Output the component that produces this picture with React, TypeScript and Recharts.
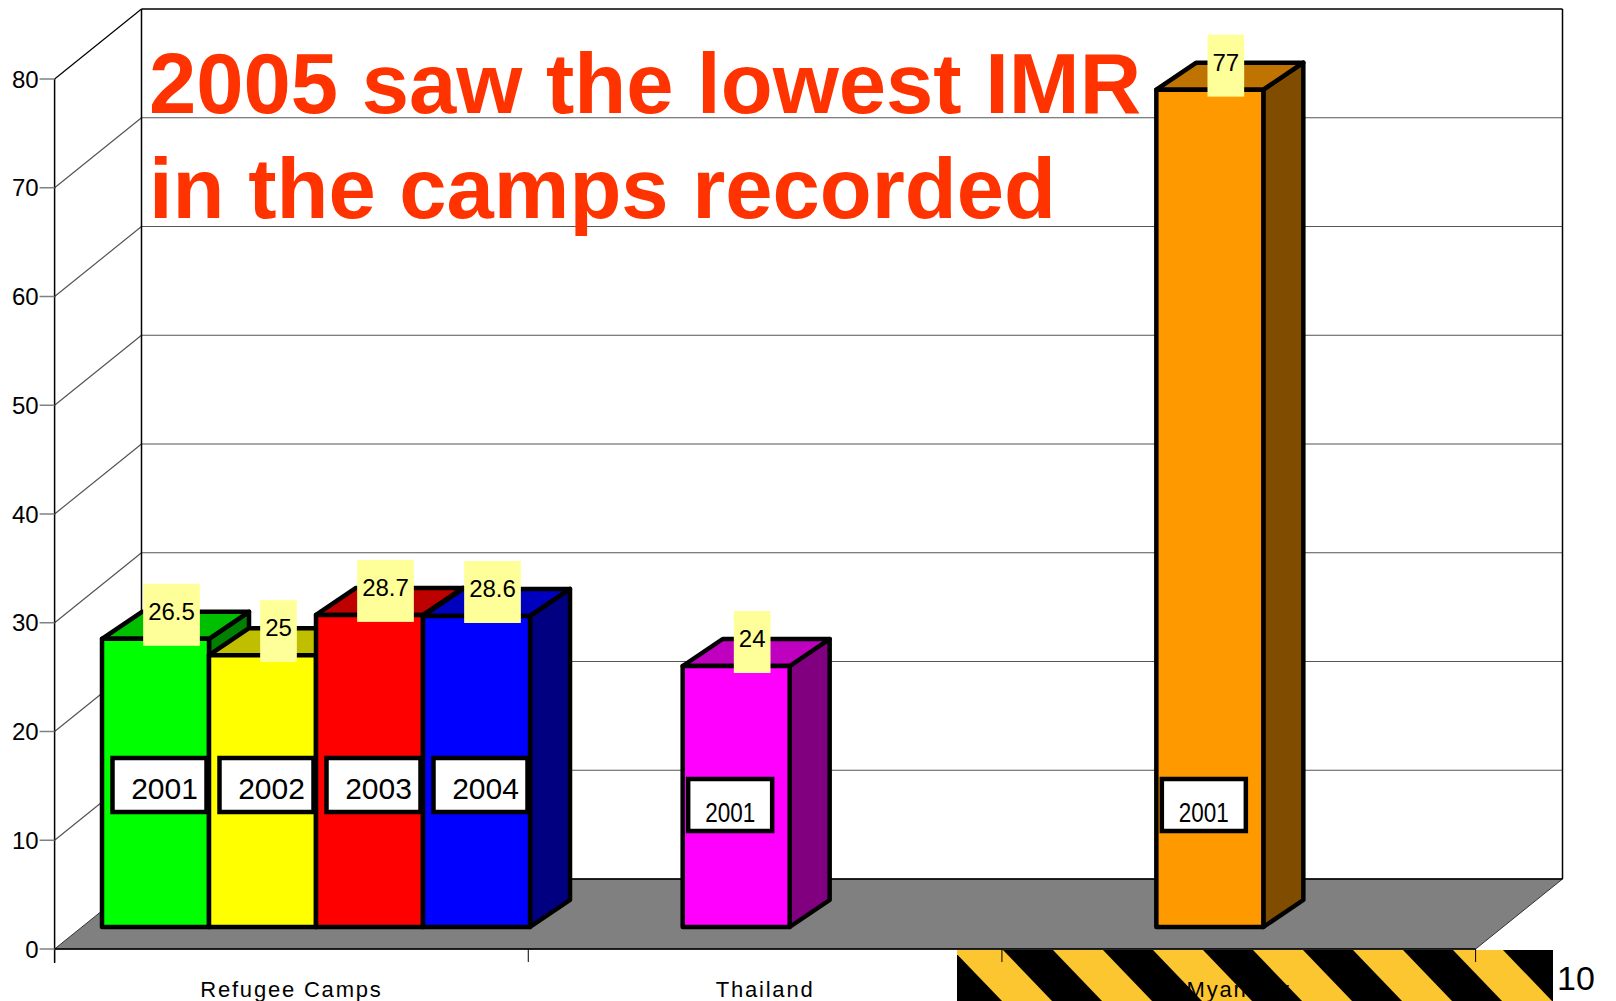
import React from "react";
import { BarChart, Bar, XAxis, YAxis, CartesianGrid, LabelList } from "recharts";

// infant mortality rate per 1000 live births
const regions = ["Refugee Camps", "Thailand", "Myanmar"];
const years = ["2001", "2002", "2003", "2004"];
const campsIMR = [26.5, 25, 28.7, 28.6];
const thailandIMR = [null, 24, null, null];
const myanmarIMR = [null, 77, null, null];
const thailandYear = "2001";
const myanmarYear = "2001";
const yTicks = [0, 10, 20, 30, 40, 50, 60, 70, 80];

const campColors = ["#00FF00", "#FFFF00", "#FF0000", "#0000FF"];
const thailandColor = "#FF00FF";
const myanmarColor = "#FF9900";

const slotKeys = ["s1", "s2", "s3", "s4"];
const rows = [campsIMR, thailandIMR, myanmarIMR];
const data = regions.map((region, r) => {
  const row: any = { region };
  slotKeys.forEach((k, i) => (row[k] = rows[r][i]));
  return row;
});

const W = 1616;
const H = 1001;
const AXIS_W = 2;
const AXIS_H = 2;
const M = { top: 57, right: 116, bottom: 74 - AXIS_H, left: 79 - AXIS_W };
const PLOT_LEFT = M.left + AXIS_W;
const PLOT_BOTTOM = H - M.bottom - AXIS_H;
// bar plane -> front plane / back wall, and depth of a single bar
const FRONT = { dx: -24.4, dy: 22 };
const BACK = { dx: 62.5, dy: -48 };
const DEPTH = { dx: 40, dy: -27 };
const FONT = "'Liberation Sans', Arial, sans-serif";

const shade = (hex: string, f: number) => {
  const n = parseInt(hex.slice(1), 16);
  const c = (v: number) => Math.round(v * f).toString(16).padStart(2, "0");
  return "#" + c((n >> 16) & 255) + c((n >> 8) & 255) + c(n & 255);
};

const colorFor = (slot: number, r: number) =>
  r === 0 ? campColors[slot] : r === 1 ? thailandColor : myanmarColor;

const numWidth = (s: string, size: number) =>
  s.split("").reduce((w, ch) => w + (ch === "." ? 0.278 : 0.556) * size, 0);

const pick = (props: any) => {
  const vb = props.viewBox || {};
  const x = props.x ?? vb.x;
  const y = props.y ?? vb.y;
  const width = props.width ?? vb.width;
  const height = props.height ?? vb.height;
  let value = props.value;
  if (Array.isArray(value)) value = value[value.length - 1];
  return { x, y, width, height, value, index: props.index };
};

const box3d = (slot: number) => (p: any) => {
  const { x, y, width, height } = p;
  if (height == null || height <= 0 || isNaN(y)) return <g />;
  const fill = colorFor(slot, p.index);
  const { dx, dy } = DEPTH;
  const front = `M${x},${y}h${width}v${height}h${-width}Z`;
  const top = `M${x},${y}L${x + dx},${y + dy}h${width}L${x + width},${y}Z`;
  const side = `M${x + width},${y}L${x + width + dx},${y + dy}V${y + height + dy}L${x + width},${y + height}Z`;
  return (
    <g stroke="#000" strokeWidth={4.5} strokeLinejoin="round">
      <path d={side} fill={shade(fill, 0.5)} />
      <path d={top} fill={shade(fill, 0.75)} />
      <path d={front} fill={fill} />
    </g>
  );
};

const valueLabel = (props: any) => {
  const { x, y, width, value } = pick(props);
  if (value == null || isNaN(y)) return null;
  const text = String(value);
  const bw = numWidth(text, 24) + 10;
  const cx = x + width / 2 + 16;
  return (
    <g>
      <rect x={cx - bw / 2} y={y - 55} width={bw} height={62} fill="#FFFF99" />
      <text x={cx} y={y - 19} textAnchor="middle" fontSize={24} fontFamily={FONT} fill="#000">
        {text}
      </text>
    </g>
  );
};

const yearLabel = (slot: number) => (props: any) => {
  const { x, y, width, height, value, index } = pick(props);
  if (value == null || isNaN(y)) return null;
  const bottom = y + height;
  if (index === 0) {
    const cx = x + width / 2 + 4;
    const cy = bottom - 142;
    return (
      <g>
        <rect x={cx - 47} y={cy - 27} width={94} height={54} fill="#fff" stroke="#000" strokeWidth={4.5} />
        <text x={cx + 5} y={cy + 14} textAnchor="middle" fontSize={30} fontFamily={FONT} fill="#000">
          {years[slot]}
        </text>
      </g>
    );
  }
  const cx = x + width / 2 - 6;
  const cy = bottom - 122;
  return (
    <g>
      <rect x={cx - 42} y={cy - 26} width={84} height={52} fill="#fff" stroke="#000" strokeWidth={4.5} />
      <text
        x={cx - 25}
        y={cy + 17}
        fontSize={28}
        fontFamily={FONT}
        fill="#000"
        textLength={50}
        lengthAdjust="spacingAndGlyphs"
      >
        {index === 1 ? thailandYear : myanmarYear}
      </text>
    </g>
  );
};

const gridLine = (p: any) => {
  const { x1, x2, y1 } = p;
  const fx = x1 + FRONT.dx;
  const fy = y1 + FRONT.dy;
  const bx1 = x1 + BACK.dx;
  const bx2 = x2 + BACK.dx;
  const by = y1 + BACK.dy;
  const isBottom = Math.abs(y1 - PLOT_BOTTOM) < 1;
  const isTop = Math.abs(y1 - M.top) < 1;
  if (isBottom) {
    const fx2 = x2 + FRONT.dx;
    const band = (x2 - x1) / regions.length;
    return (
      <g key={p.key}>
        <polygon
          points={`${fx},${fy} ${fx2},${fy} ${bx2},${by} ${bx1},${by}`}
          fill="#808080"
          stroke="#333"
          strokeWidth={1}
        />
        <line x1={bx1} y1={by} x2={bx2} y2={by} stroke="#000" strokeWidth={1.5} />
        <line x1={fx} y1={fy} x2={fx2} y2={fy} stroke="#000" strokeWidth={1.5} />
        {regions.map((_, k) => (
          <line key={k} x1={fx + k * band} y1={fy} x2={fx + k * band} y2={fy + 13} stroke="#000" strokeWidth={1} />
        ))}
        <line x1={fx2} y1={fy} x2={fx2} y2={fy + 13} stroke="#000" strokeWidth={1} />
      </g>
    );
  }
  const dark = isTop ? "#000" : "#555";
  return (
    <g key={p.key}>
      <line x1={fx} y1={fy} x2={bx1} y2={by} stroke={dark} strokeWidth={1.2} />
      <line x1={bx1} y1={by} x2={bx2} y2={by} stroke={dark} strokeWidth={isTop ? 1.5 : 1.2} />
      {isTop && (
        <>
          <line x1={bx1} y1={by} x2={bx1} y2={PLOT_BOTTOM + BACK.dy} stroke="#000" strokeWidth={1.5} />
          <line x1={bx2} y1={by} x2={bx2} y2={PLOT_BOTTOM + BACK.dy} stroke="#000" strokeWidth={1.5} />
          <line x1={fx} y1={fy} x2={fx} y2={PLOT_BOTTOM + FRONT.dy + 14} stroke="#000" strokeWidth={1.5} />
        </>
      )}
    </g>
  );
};

const YTick = (p: any) => {
  const fy = p.y + FRONT.dy;
  const ax = PLOT_LEFT + FRONT.dx;
  return (
    <g>
      <line x1={ax - 15} y1={fy} x2={ax} y2={fy} stroke="#808080" strokeWidth={1.5} />
      <text x={ax - 16} y={fy + 8.5} textAnchor="end" fontSize={24} fontFamily={FONT} fill="#000">
        {p.payload.value}
      </text>
    </g>
  );
};

const XTick = (p: any) => (
  <text
    x={p.x + FRONT.dx}
    y={PLOT_BOTTOM + 70}
    textAnchor="middle"
    fontSize={22}
    letterSpacing={1.8}
    fontFamily={FONT}
    fill="#000"
  >
    {p.payload.value}
  </text>
);

const stripes = Array.from({ length: 8 }, (_, k) => 953 + k * 100 - 100);

export default function App() {
  return (
    <div style={{ position: "absolute", left: 0, top: 0, width: W, height: H, background: "#fff" }}>
      <svg width={W} height={H} style={{ position: "absolute", left: 0, top: 0 }}>
        <defs>
          <clipPath id="hazard">
            <rect x={957} y={950} width={596} height={51} />
          </clipPath>
        </defs>
        <g clipPath="url(#hazard)">
          <rect x={957} y={950} width={596} height={51} fill="#000" />
          {stripes.map((sx) => (
            <polygon key={sx} points={`${sx},950 ${sx + 50},950 ${sx + 99},1001 ${sx + 49},1001`} fill="#FBC62F" />
          ))}
        </g>
      </svg>
      <div style={{ position: "absolute", left: 0, top: 0 }}>
        <BarChart width={W} height={H} data={data} margin={M} barGap={0} barCategoryGap={23}>
          <CartesianGrid horizontal={gridLine} vertical={false} />
          <XAxis
            dataKey="region"
            height={AXIS_H}
            axisLine={false}
            tickLine={false}
            interval={0}
            tick={<XTick />}
          />
          <YAxis
            domain={[0, 80]}
            ticks={yTicks}
            width={AXIS_W}
            axisLine={false}
            tickLine={false}
            tick={<YTick />}
            interval={0}
          />
          {slotKeys.map((k, i) => (
            <Bar key={k} dataKey={k} isAnimationActive={false} shape={box3d(i)}>
              <LabelList dataKey={k} content={yearLabel(i)} />
              <LabelList dataKey={k} content={valueLabel} />
            </Bar>
          ))}
        </BarChart>
      </div>
      <svg width={W} height={H} style={{ position: "absolute", left: 0, top: 0, pointerEvents: "none" }}>
        <text x={149} y={113} fontSize={85} fontWeight="bold" fontFamily={FONT} fill="#FF3300">
          2005 saw the lowest IMR
        </text>
        <text x={149} y={218} fontSize={85} fontWeight="bold" fontFamily={FONT} fill="#FF3300">
          in the camps recorded
        </text>
        <text x={1557} y={990} fontSize={34} fontFamily={FONT} fill="#000">
          10
        </text>
      </svg>
    </div>
  );
}
